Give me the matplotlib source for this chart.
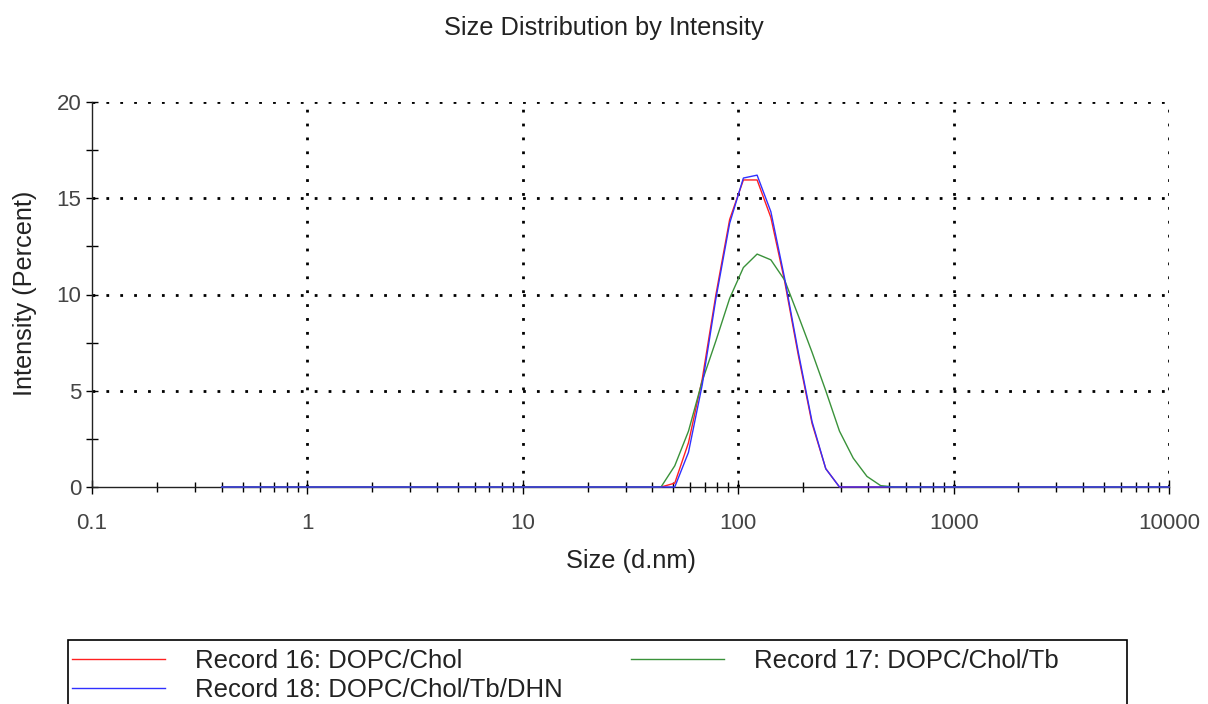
import matplotlib
matplotlib.use('Agg')
import matplotlib.pyplot as plt
from matplotlib.ticker import FixedLocator, FuncFormatter
from matplotlib.patches import Rectangle

plt.rcParams['font.family'] = ['Liberation Sans', 'DejaVu Sans']

# size classes (d.nm) of the instrument
sizes = [0.4, 0.4632, 0.5365, 0.6213, 0.7195, 0.8332, 0.9649,
         1.117, 1.294, 1.499, 1.736, 2.010, 2.328, 2.696, 3.122, 3.615,
         4.187, 4.849, 5.615, 6.503, 7.531, 8.721,
         10.10, 11.70, 13.54, 15.69, 18.17, 21.04, 24.36, 28.21, 32.67,
         37.84, 43.82, 50.75, 58.77, 68.06, 78.82, 91.28,
         105.7, 122.4, 141.8, 164.2, 190.1, 220.2, 255.0, 295.3, 342.0,
         396.1, 458.7, 531.2, 615.1, 712.4, 825.0, 955.4,
         1106, 1281, 1484, 1718, 1990, 2305, 2669, 3091, 3580, 4145,
         4801, 5560, 6439, 7456, 8635, 10000]

# intensity (%) per size class
rec16 = [0.0] * 33 + [0.2, 2.3, 5.6, 10.0, 13.9, 15.95, 15.95, 14.0, 10.7,
                      6.85, 3.3, 0.95] + [0.0] * 25
rec17 = [0.0] * 33 + [1.1, 2.9, 5.5, 7.6, 9.8, 11.4, 12.1, 11.8, 10.75,
                      8.9, 7.0, 5.0, 2.9, 1.5, 0.55, 0.07] + [0.0] * 21
rec18 = [0.0] * 33 + [0.0, 1.8, 5.3, 9.8, 13.7, 16.05, 16.2, 14.3, 10.85,
                      7.0, 3.4, 0.95] + [0.0] * 25

labels = ['Record 16: DOPC/Chol', 'Record 17: DOPC/Chol/Tb',
          'Record 18: DOPC/Chol/Tb/DHN']
colors = ['#ff2020', '#3a923a', '#3030ff']

x_ticks = [0.1, 1, 10, 100, 1000, 10000]
y_ticks = [0, 5, 10, 15, 20]


def main():
    fig = plt.figure(figsize=(12.08, 7.04), dpi=100)
    ax = fig.add_axes([92 / 1208, 1 - 487 / 704, 1077 / 1208, 385 / 704])

    l16, = ax.plot(sizes, rec16, color=colors[0], lw=1.0, clip_on=False, zorder=3)
    l17, = ax.plot(sizes, rec17, color=colors[1], lw=1.0, clip_on=False, zorder=3)
    l18, = ax.plot(sizes, rec18, color=colors[2], lw=1.0, clip_on=False, zorder=4)

    ax.set_xscale('log')
    ax.set_xlim(0.1, 10000)
    ax.set_ylim(0, 20)

    ax.xaxis.set_major_locator(FixedLocator(x_ticks))
    ax.xaxis.set_major_formatter(FuncFormatter(lambda v, p: '%g' % v))
    ax.yaxis.set_major_locator(FixedLocator(y_ticks))
    ax.yaxis.set_minor_locator(FixedLocator([2.5, 7.5, 12.5, 17.5]))

    # dotted grid
    for v in x_ticks[1:]:
        ax.axvline(v, color='black', lw=2, ls=(0, (1, 4)), zorder=1)
    for v in y_ticks[1:]:
        ax.axhline(v, color='black', lw=2, ls=(0, (1, 4)), zorder=1)

    for s in ['top', 'right']:
        ax.spines[s].set_visible(False)
    for s in ['left', 'bottom']:
        ax.spines[s].set_linewidth(1.0)
        ax.spines[s].set_color('#222222')

    ax.tick_params(axis='x', which='major', direction='inout', length=10,
                   width=1, pad=14, labelsize=16, labelcolor='#444444')
    ax.tick_params(axis='x', which='minor', direction='inout', length=7, width=1)
    ax.tick_params(axis='y', which='major', direction='inout', length=9,
                   width=1, pad=3, labelsize=16, labelcolor='#444444')
    ax.tick_params(axis='y', which='minor', direction='inout', length=8, width=1)

    ax.set_xlabel('Size (d.nm)', fontsize=18.3, color='#222222', va='center')
    ax.xaxis.set_label_coords(0.5, -0.192)
    ax.set_ylabel('Intensity (Percent)', fontsize=18.2, color='#222222', va='center')
    ax.yaxis.set_label_coords(-0.062, 0.504)

    fig.text(0.5, 1 - 28 / 704, 'Size Distribution by Intensity', fontsize=18.3,
             color='#222222', ha='center', va='center')

    # legend box (runs off the bottom of the page)
    fig.patches.append(Rectangle((68 / 1208, -0.05), (1127 - 68) / 1208,
                                 0.05 + 1 - 640 / 704, transform=fig.transFigure,
                                 fill=False, edgecolor='black', lw=1.2))
    fig.legend([l16, l18, l17], [labels[0], labels[2], labels[1]], ncol=2,
               loc='upper left', bbox_to_anchor=(72 / 1208, 1 - 649 / 704),
               frameon=False, fontsize=18.5, handlelength=3.62, handletextpad=1.17,
               columnspacing=2.65, labelspacing=0.21, borderpad=0,
               borderaxespad=0, labelcolor='#222222')

    fig.savefig('out.png', dpi=100)


if __name__ == '__main__':
    main()
